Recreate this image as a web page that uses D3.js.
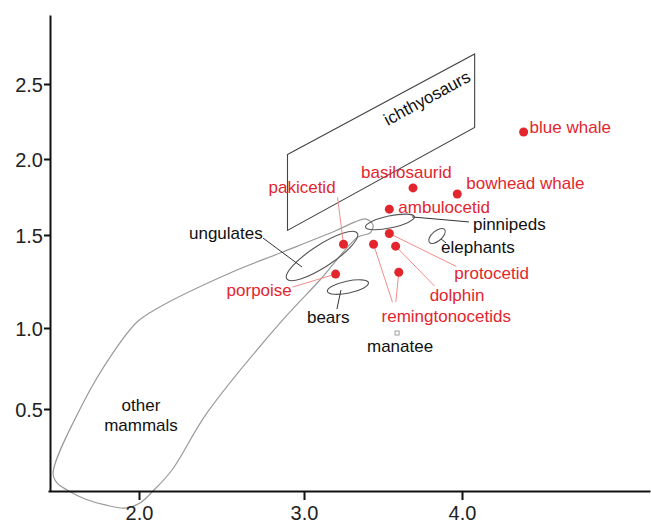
<!DOCTYPE html>
<html>
<head>
<meta charset="utf-8">
<script src="https://cdn.jsdelivr.net/npm/d3@7"></script>
<style>
body { margin: 0; background: #fff; }
svg { display: block; }
text { font-family: "Liberation Sans", Arial, Helvetica, sans-serif; }
.tick text { font-size: 20px; fill: #222; }
.lbl { font-size: 17px; fill: #111; }
.red { fill: #e3262e; }
.ptr { stroke: #f08c8c; stroke-width: 1; fill: none; }
.ptrBlack { stroke: #333; stroke-width: 1; fill: none; }
</style>
</head>
<body>
<svg id="chart" width="651" height="524"></svg>
<script>
// tick values
const xTicks = [2.0, 3.0, 4.0];
const yTicks = [0.5, 1.0, 1.5, 2.0, 2.5];

// whales and relatives (red points)
const species  = ['blue whale', 'bowhead whale', 'basilosaurid', 'ambulocetid', 'pakicetid',
                  'remingtonocetid', 'protocetid', 'dolphin', 'remingtonocetid', 'porpoise'];
const speciesX = [4.39, 3.97, 3.69, 3.54, 3.25, 3.44, 3.54, 3.58, 3.60, 3.20];
const speciesY = [2.18, 1.77, 1.81, 1.67, 1.45, 1.45, 1.51, 1.44, 1.30, 1.29];
const speciesLabel = ['blue whale', 'bowhead whale', 'basilosaurid', 'ambulocetid', 'pakicetid',
                      'remingtonocetids', 'protocetid', 'dolphin', '', 'porpoise'];

// ichthyosaur range (parallelogram)
const ichthyoX = [2.90, 4.08, 4.08, 2.90];
const ichthyoY = [2.03, 2.70, 2.21, 1.53];

// other mammals range outline
const mammalX = [1.479, 1.661, 1.842, 1.988, 2.115, 2.552, 2.855, 3.196, 3.323, 3.392, 3.437, 3.418,
                 3.342, 3.101, 2.855, 2.412, 2.200, 2.085, 2.006, 1.915, 1.794, 1.673, 1.564, 1.503];
const mammalY = [0.110, 0.537, 0.846, 1.032, 1.108, 1.296, 1.403, 1.526, 1.586, 1.605, 1.566, 1.513,
                 1.489, 1.258, 1.027, 0.476, 0.128, 0.000, -0.073, -0.104, -0.085, -0.049, 0.006, 0.049];

// small group ranges (centres)
const groups  = ['ungulates', 'pinnipeds', 'elephants', 'bears'];
const groupX  = [3.114, 3.544, 3.842, 3.278];
const groupY  = [1.387, 1.586, 1.495, 1.220];

// manatee
const manateeX = 3.589, manateeY = 0.969;

// ---------- layout ----------
const width = 651, height = 524;
const svg = d3.select('#chart');

// the figure's axes are not evenly spaced, so the scales are piecewise
const x = d3.scaleLinear().domain([1.448, 2, 3, 4, 5.19]).range([48, 139, 304, 462, 650]);
const y = d3.scaleLinear().domain([0, 0.5, 1, 1.5, 2, 2.5, 2.96]).range([491, 409, 328, 235, 159, 84, 15]);

// label placement relative to each point, px
const speciesLayout = [
    {dx: 6, dy: -5},
    {dx: 9, dy: -11},
    {dx: -52, dy: -16},
    {dx: 9, dy: -2},
    {dx: -75, dy: -57, px: -6, py: -47},
    {dx: 8, dy: 72, px: 19, py: 58},
    {dx: 65, dy: 40, px: 67, py: 33},
    {dx: 34, dy: 49, px: 39, py: 40},
    {px: -3, py: 30},
    {dx: -109, dy: 16, px: -43, py: 13}
];
const groupLayout = [
    {rx: 42, ry: 11, rot: -33, dx: -133, dy: -23, p: [-59, -18, -20, 11]},
    {rx: 25, ry: 6, rot: -12, dx: 83, dy: 2, p: [22, -5, 79, 0]},
    {rx: 10, ry: 5, rot: -40, dx: 4, dy: 11, p: [4, 3, 9, 7]},
    {rx: 21, ry: 6, rot: -12, dx: -41, dy: 30, p: [-7, 3, -11, 22]}
];

// ---------- region outlines ----------
const ichthyo = ichthyoX.map((d, i) => [x(d), y(ichthyoY[i])]);
svg.append('path')
    .attr('d', d3.line().curve(d3.curveLinearClosed)(ichthyo))
    .attr('fill', 'none').attr('stroke', '#444').attr('stroke-width', 1.1);

svg.append('text').attr('class', 'lbl')
    .attr('transform', `translate(${x(3.778)},${y(2.407)}) rotate(-28.5)`)
    .attr('text-anchor', 'middle').attr('dy', '.35em')
    .text('ichthyosaurs');

const mammals = mammalX.map((d, i) => [x(d), y(mammalY[i])]);
svg.append('path')
    .attr('d', d3.line().curve(d3.curveCatmullRomClosed.alpha(0.5))(mammals))
    .attr('fill', 'none').attr('stroke', '#9a9a9a').attr('stroke-width', 1.2);

const om = svg.append('text').attr('class', 'lbl')
    .attr('x', x(2.012)).attr('y', y(0.463)).attr('text-anchor', 'middle');
om.append('tspan').attr('x', x(2.012)).attr('dy', '-0.25em').text('other');
om.append('tspan').attr('x', x(2.012)).attr('dy', '1.2em').text('mammals');

// group ellipses with their labels
groups.forEach((g, i) => {
    const cx = x(groupX[i]), cy = y(groupY[i]), L = groupLayout[i];
    svg.append('ellipse')
        .attr('transform', `translate(${cx},${cy}) rotate(${L.rot})`)
        .attr('rx', L.rx).attr('ry', L.ry)
        .attr('fill', 'none').attr('stroke', '#555').attr('stroke-width', 1.1);
    svg.append('line').attr('class', 'ptrBlack')
        .attr('x1', cx + L.p[0]).attr('y1', cy + L.p[1])
        .attr('x2', cx + L.p[2]).attr('y2', cy + L.p[3]);
    svg.append('text').attr('class', 'lbl')
        .attr('x', cx + L.dx).attr('y', cy + L.dy).attr('dy', '.35em')
        .text(g);
});

// manatee
svg.append('rect')
    .attr('x', x(manateeX) - 2).attr('y', y(manateeY) - 2)
    .attr('width', 4).attr('height', 4)
    .attr('fill', '#fff').attr('stroke', '#888').attr('stroke-width', 0.8);
svg.append('text').attr('class', 'lbl')
    .attr('x', x(manateeX) + 3).attr('y', y(manateeY) + 13).attr('dy', '.35em')
    .attr('text-anchor', 'middle').text('manatee');

// ---------- axes ----------
const xAxis = svg.append('g')
    .attr('transform', `translate(0,${y(0)})`)
    .call(d3.axisBottom(x).tickValues(xTicks).tickFormat(d3.format('.1f')).tickSize(9).tickSizeOuter(0).tickPadding(6));
const yAxis = svg.append('g')
    .attr('transform', `translate(${x(1.448) + 2},0)`)
    .call(d3.axisLeft(y).tickValues(yTicks).tickFormat(d3.format('.1f')).tickSize(6).tickSizeOuter(0).tickPadding(1));
[xAxis, yAxis].forEach(a => {
    a.select('.domain').attr('stroke', '#111').attr('stroke-width', 2);
    a.selectAll('.tick line').attr('stroke', '#111').attr('stroke-width', 2);
    a.selectAll('.tick text').attr('font-size', null).attr('font-family', null);
});
yAxis.selectAll('.tick text').attr('dy', '.36em');
xAxis.selectAll('.tick text').attr('dy', '.71em');

// ---------- whale points ----------
species.forEach((s, i) => {
    const cx = x(speciesX[i]), cy = y(speciesY[i]), L = speciesLayout[i];
    if (L.px !== undefined) {
        svg.append('line').attr('class', 'ptr')
            .attr('x1', cx).attr('y1', cy)
            .attr('x2', cx + L.px).attr('y2', cy + L.py);
    }
});
svg.append('g').selectAll('circle')
    .data(species)
    .join('circle')
        .attr('cx', (d, i) => x(speciesX[i]))
        .attr('cy', (d, i) => y(speciesY[i]))
        .attr('r', 4.5)
        .attr('fill', '#e3262e');
species.forEach((s, i) => {
    const L = speciesLayout[i];
    if (!speciesLabel[i]) return;
    svg.append('text').attr('class', 'lbl red')
        .attr('x', x(speciesX[i]) + L.dx).attr('y', y(speciesY[i]) + L.dy).attr('dy', '.35em')
        .text(speciesLabel[i]);
});
</script>
</body>
</html>
